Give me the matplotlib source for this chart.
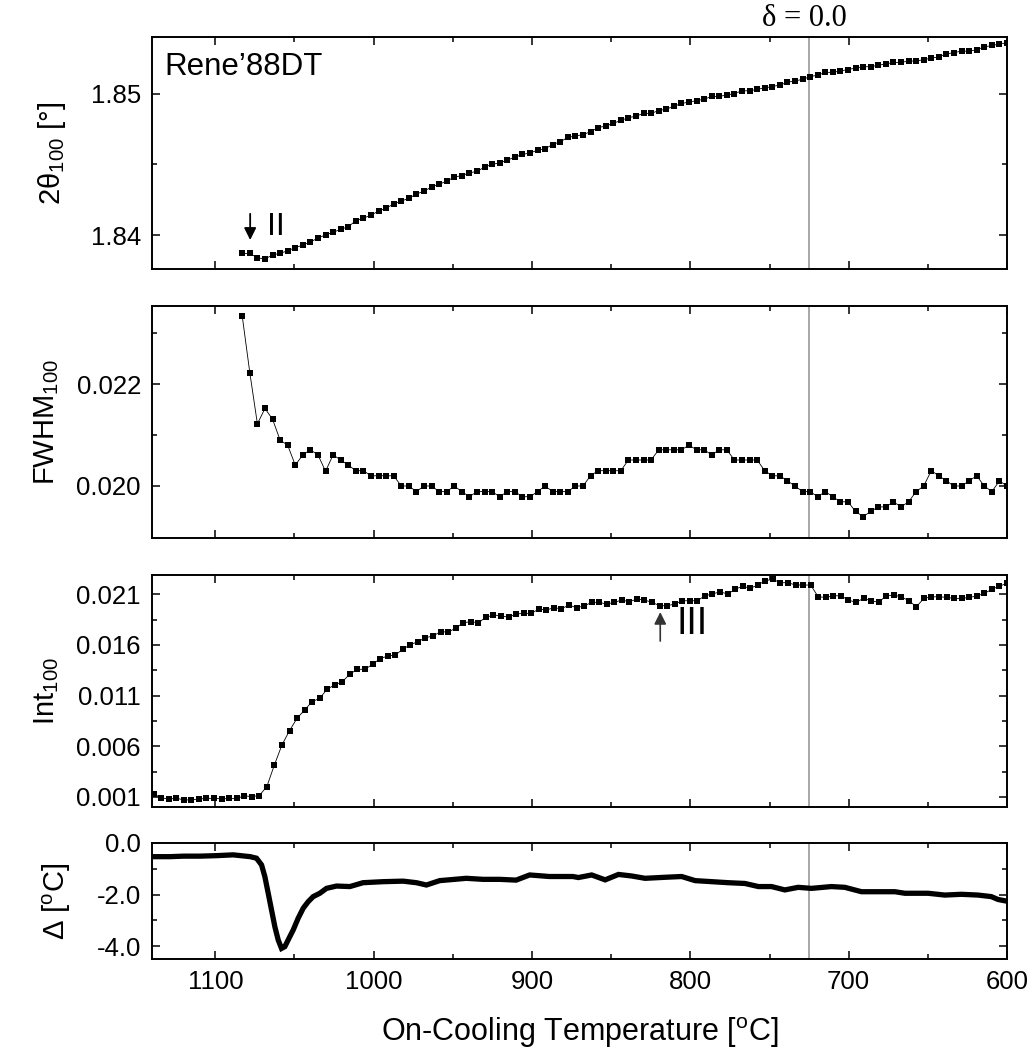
import numpy as np
import matplotlib
matplotlib.use("Agg")
import matplotlib.pyplot as plt
from matplotlib.ticker import MultipleLocator, FixedLocator

plt.rcParams['font.family'] = ['Liberation Sans', 'DejaVu Sans']
plt.rcParams['mathtext.fontset'] = 'custom'
plt.rcParams['mathtext.rm'] = 'Liberation Sans'
plt.rcParams['mathtext.it'] = 'Liberation Sans:italic'

# ---------------- data ----------------
# Panel 1 & 2 sampling range (first / last temperature), 102 samples
T12_first, T12_last = 1083, 600
two_theta = [1.8387, 1.8387, 1.8384, 1.8383, 1.8386, 1.8387, 1.8389, 1.8391, 1.8393, 1.8395,
             1.8398, 1.8400, 1.8402, 1.8404, 1.8406, 1.8410, 1.8412, 1.8414, 1.8417, 1.8419,
             1.8422, 1.8424, 1.8426, 1.8429, 1.8431, 1.8434, 1.8436, 1.8438, 1.8441, 1.8442,
             1.8444, 1.8445, 1.8448, 1.8450, 1.8451, 1.8453, 1.8455, 1.8457, 1.8458, 1.8460,
             1.8461, 1.8464, 1.8466, 1.8469, 1.8470,
             1.8471, 1.8473, 1.8476, 1.8477, 1.8479, 1.8481, 1.8483, 1.8484, 1.8486, 1.8486,
             1.8488, 1.8489, 1.8491, 1.8493, 1.8494, 1.8495, 1.8496, 1.8498, 1.8498, 1.8499,
             1.8500, 1.8502, 1.8502, 1.8503, 1.8504, 1.8505, 1.8506, 1.8508, 1.8509, 1.8510,
             1.8512, 1.8513, 1.8515, 1.8515, 1.8516, 1.8517, 1.8518, 1.8519, 1.8519, 1.8520,
             1.8521, 1.8522, 1.8522, 1.8523, 1.8523, 1.8524, 1.8525, 1.8526, 1.8528, 1.8529,
             1.8530, 1.8530, 1.8531, 1.8533, 1.8534, 1.8535, 1.8536]

fwhm = [0.02333, 0.02222, 0.02122, 0.02152, 0.02131, 0.02090, 0.02080, 0.02041, 0.02061, 0.02071,
        0.02061, 0.02029, 0.02061, 0.02051, 0.02041, 0.02030, 0.02030, 0.02020, 0.02020, 0.02020,
        0.02020, 0.02000, 0.02000, 0.01989, 0.02000, 0.02000, 0.01989, 0.01989, 0.02000, 0.01989,
        0.01979, 0.01989, 0.01989, 0.01989, 0.01979, 0.01989, 0.01989, 0.01979, 0.01979, 0.01989,
        0.02000, 0.01989, 0.01989, 0.01989, 0.02000,
        0.02000, 0.02020, 0.02030, 0.02030, 0.02030, 0.02030, 0.02051, 0.02051, 0.02051, 0.02051,
        0.02071, 0.02071, 0.02071, 0.02071, 0.02080, 0.02071, 0.02071, 0.02061, 0.02071, 0.02071,
        0.02051, 0.02051, 0.02051, 0.02051, 0.02030, 0.02020, 0.02020, 0.02010, 0.02000, 0.01989,
        0.01989, 0.01979, 0.01989, 0.01979, 0.01969, 0.01969, 0.01950, 0.01940, 0.01950, 0.01959,
        0.01959, 0.01969, 0.01959, 0.01969, 0.01989, 0.02000, 0.02030, 0.02020, 0.02010, 0.02000,
        0.02000, 0.02010, 0.02020, 0.02000, 0.01989, 0.02010, 0.02000]

# Panel 3 sampling range, 114 samples
T3_first, T3_last = 1139, 600
intensity = [0.00127, 0.00093, 0.00077, 0.00087, 0.00070, 0.00070, 0.00080, 0.00084, 0.00087, 0.00080,
             0.00084, 0.00084, 0.00110, 0.00103, 0.00113, 0.00202, 0.00416, 0.00613, 0.00754, 0.00876,
             0.00958, 0.01040, 0.01073, 0.01165, 0.01205, 0.01237, 0.01313, 0.01359, 0.01359, 0.01409,
             0.01464, 0.01491, 0.01500, 0.01557, 0.01602, 0.01632, 0.01671, 0.01688, 0.01730, 0.01727,
             0.01764, 0.01819, 0.01829, 0.01819, 0.01872, 0.01895, 0.01888, 0.01872, 0.01905, 0.01911,
             0.01911, 0.01954, 0.01944, 0.01967, 0.01957, 0.01993, 0.01967,
             0.01984, 0.02020, 0.02020, 0.02003, 0.02020, 0.02043, 0.02026, 0.02053, 0.02043, 0.02020,
             0.01987, 0.01987, 0.02003, 0.02036, 0.02036, 0.02036, 0.02085, 0.02102, 0.02125, 0.02102,
             0.02148, 0.02181, 0.02158, 0.02191, 0.02234, 0.02247, 0.02214, 0.02214, 0.02191, 0.02191,
             0.02191, 0.02075, 0.02069, 0.02085, 0.02085, 0.02043, 0.02020, 0.02059, 0.02036, 0.02020,
             0.02085, 0.02092, 0.02075, 0.02036, 0.01977, 0.02059, 0.02075, 0.02075, 0.02069, 0.02059,
             0.02059, 0.02069, 0.02082, 0.02109, 0.02148, 0.02181, 0.02207]

# Panel 4 (Delta) trace
T4 = [1140, 1128.6, 1120, 1109.7, 1099, 1088.7, 1078, 1074, 1070.8, 1068.7, 1066.6, 1064.5,
      1062.4, 1060.3, 1058.2, 1056.1, 1054, 1050.8, 1047.7, 1044.5, 1041.4, 1038.2, 1034, 1029.8,
      1023.5, 1015, 1006.7, 994, 981.4, 973, 966.7, 958.3, 941.5, 931, 920.4, 910, 901.5, 889,
      874.2, 870.7, 862.3, 853.8, 845.4, 837, 828.6, 816, 805.5, 797, 786.5, 776, 765.5, 757,
      748.7, 740.3, 731.9, 723.5, 710.9, 702.4, 691.9, 681.4, 670.8, 664.5, 649.8, 639.3, 628.8,
      618.3, 609.9, 605.7, 601.5]
delta = [-0.53, -0.53, -0.51, -0.51, -0.49, -0.46, -0.53, -0.59, -0.85, -1.31, -1.95, -2.60,
         -3.25, -3.76, -4.09, -4.02, -3.76, -3.37, -2.92, -2.53, -2.28, -2.08, -1.95, -1.76,
         -1.67, -1.69, -1.54, -1.50, -1.48, -1.54, -1.63, -1.46, -1.37, -1.41, -1.41, -1.44,
         -1.24, -1.30, -1.30, -1.34, -1.24, -1.43, -1.22, -1.28, -1.37, -1.33, -1.30, -1.46,
         -1.50, -1.54, -1.57, -1.69, -1.69, -1.82, -1.72, -1.76, -1.69, -1.72, -1.89, -1.89,
         -1.89, -1.95, -1.95, -2.02, -1.99, -2.02, -2.08, -2.19, -2.24]

delta_line_T = 725
x_ticks = [1100, 1000, 900, 800, 700, 600]

# ---------------- figure ----------------
W, H = 1034, 1055
fig = plt.figure(figsize=(W / 100, H / 100), dpi=100)

def axes_px(top, bottom, left=152, right=1007):
    return fig.add_axes([left / W, 1 - bottom / H, (right - left) / W, (bottom - top) / H])

ax1 = axes_px(37, 269)
ax2 = axes_px(306, 538)
ax3 = axes_px(575, 807)
ax4 = axes_px(843, 959)
axes = [ax1, ax2, ax3, ax4]

T12 = np.linspace(T12_first, T12_last, len(two_theta))
T3 = np.linspace(T3_first, T3_last, len(intensity))

mk = dict(marker='s', markersize=4.8, color='black', markeredgewidth=0, linewidth=0.6)
ax1.plot(T12, two_theta, **mk)
ax2.plot(T12, fwhm, **mk)
ax3.plot(T3, intensity, **mk)
ax4.plot(T4, delta, color='black', linewidth=3.8, solid_joinstyle='miter')

for ax in axes:
    ax.set_xlim(1140, 600)
    ax.axvline(delta_line_T, color='#a0a0a0', linewidth=1.3, zorder=0)
    ax.xaxis.set_major_locator(FixedLocator(x_ticks))
    ax.xaxis.set_minor_locator(MultipleLocator(50))
    ax.tick_params(which='both', direction='in', top=True, right=True, labelsize=18.5, pad=8)
    ax.tick_params(which='major', length=6, width=1.1)
    ax.tick_params(which='minor', length=3.5, width=1.1)
    for s in ax.spines.values():
        s.set_linewidth(1.4)
    if ax is not ax4:
        ax.tick_params(labelbottom=False)

ax1.set_ylim(1.8376, 1.8540)
ax1.yaxis.set_major_locator(FixedLocator([1.84, 1.85]))
ax1.yaxis.set_minor_locator(FixedLocator([1.845]))
ax1.set_yticklabels(['1.84', '1.85'])

ax2.set_ylim(0.01898, 0.02353)
ax2.yaxis.set_major_locator(FixedLocator([0.020, 0.022]))
ax2.yaxis.set_minor_locator(FixedLocator([0.021, 0.023]))
ax2.set_yticklabels(['0.020', '0.022'])

ax3.set_ylim(0.0, 0.0229)
ax3.yaxis.set_major_locator(FixedLocator([0.001, 0.006, 0.011, 0.016, 0.021]))
ax3.yaxis.set_minor_locator(FixedLocator([0.0035, 0.0085, 0.0135, 0.0185]))
ax3.set_yticklabels(['0.001', '0.006', '0.011', '0.016', '0.021'])

ax4.set_ylim(-4.5, 0.0)
ax4.yaxis.set_major_locator(FixedLocator([0.0, -2.0, -4.0]))
ax4.yaxis.set_minor_locator(FixedLocator([-1.0, -3.0]))
ax4.set_yticklabels(['0.0', '-2.0', '-4.0'])
ax4.set_xticklabels([str(t) for t in x_ticks])

# y labels
def ylab(text, xpx, ypx):
    fig.text(xpx / W, 1 - ypx / H, text, rotation=90, ha='center', va='center', fontsize=21)

ylab('2θ$_{\\mathrm{100}}$ [°]', 52, 153)
ylab('FWHM$_{\\mathrm{100}}$', 47, 422)
ylab('Int$_{\\mathrm{100}}$', 47, 691)
ylab('Δ [$^{\\mathrm{o}}$C]', 57, 901)

fig.text(580 / W, 1 - 1033 / H, 'On-Cooling Temperature [$^{\\mathrm{o}}$C]',
         ha='center', va='center', fontsize=22)

# annotations
ax1.text(0.015, 0.836, "Rene’88DT", transform=ax1.transAxes, fontsize=22.5,
         ha='left', va='baseline')
ax1.text(delta_line_T + 3, 1.8540 + 0.0003, 'δ = 0.0', family=['Liberation Serif', 'DejaVu Serif'],
         fontsize=22, ha='center', va='bottom', clip_on=False)

ax1.annotate('', xy=(1078, 1.83965), xytext=(1078, 1.84150),
             arrowprops=dict(arrowstyle='-|>', color='black', lw=1.3, mutation_scale=18,
                             shrinkA=0, shrinkB=0))
ax1.text(1061.5, 1.84057, 'II', fontsize=23, ha='center', va='center')

ax3.annotate('', xy=(819, 0.01924), xytext=(819, 0.01638),
             arrowprops=dict(arrowstyle='-|>', color='#333333', lw=1.2, mutation_scale=18,
                             shrinkA=0, shrinkB=0))
ax3.text(799, 0.01806, 'III', fontsize=27, ha='center', va='center')

fig.savefig('out.png', dpi=100)
